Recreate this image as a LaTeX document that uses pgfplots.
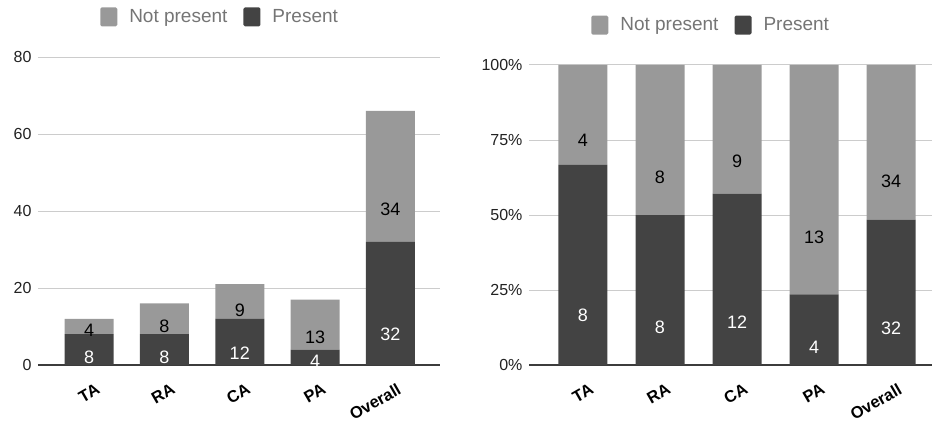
\documentclass[border=0pt]{standalone}
\usepackage{fontspec}
\setmainfont{Liberation Sans}
\usepackage{pgfplots}
\usepackage{pgfplotstable}
\pgfplotsset{compat=1.18}
\definecolor{dark}{HTML}{434343}
\definecolor{light}{HTML}{999999}
\definecolor{gridc}{HTML}{CCCCCC}
\definecolor{legtext}{HTML}{757575}
\definecolor{ticktext}{HTML}{222222}

\pgfplotstableread{
x cat present notpresent ppct npct
0 TA 8 4 66.67 33.33
1 RA 8 8 50.00 50.00
2 CA 12 9 57.14 42.86
3 PA 4 13 23.53 76.47
4 Overall 32 34 48.48 51.52
}\data

\pgfplotsset{
  mystyle/.style={
    scale only axis,
    ybar stacked,
    bar width=49pt,
    xmin=-0.68, xmax=4.66,
    xtick={0,1,2,3,4},
    xticklabels={TA,RA,CA,PA,Overall},
    axis x line*=bottom,
    axis y line*=left,
    x axis line style={draw=dark!90!black, line width=1.3pt},
    y axis line style={draw=none},
    major tick length=0pt,
    ymajorgrids,
    grid style={gridc, line width=1pt},
    /pgf/number format/assume math mode=true,
    yticklabel style={font=\fontsize{16}{18}\selectfont, text=ticktext, xshift=-3pt},
    xticklabel style={font=\bfseries\fontsize{16.5}{18}\selectfont, text=black, xshift=12pt, yshift=-21pt, rotate=30, anchor=east},
    reverse legend,
    legend columns=2,
    legend style={draw=none, fill=none, font=\fontsize{19}{21}\selectfont, text=legtext,
      /tikz/every even column/.append style={column sep=14pt}},
    legend image code/.code={\path[#1, draw=none, rounded corners=1.5pt] (0pt,-9.5pt) rectangle (17pt,9.5pt); \path (27pt,0pt);},
    nodes near coords,
    point meta=explicit symbolic,
    nodes near coords style={font=\fontsize{18}{20}\selectfont},
  }
}

\begin{document}
\begin{tikzpicture}
\useasboundingbox (0pt,0pt) rectangle (932pt,-425pt);

\begin{axis}[mystyle,
  at={(38pt,-365pt)}, anchor=south west,
  width=402pt, height=308pt,
  ymin=0, ymax=80, ytick={0,20,40,60,80},
  legend style={at={(0.453,1.13)}, anchor=center},
]
\addplot+[fill=dark, draw=none,
  visualization depends on={\thisrow{present} \as \rawy},
  every node near coord/.append style={text=white, anchor=center, yshift=-\rawy*0.9625pt}]
  table[x=x, y=present, meta=present] {\data};
\addlegendentry{Present}
\addplot+[fill=light, draw=none,
  visualization depends on={\thisrow{notpresent} \as \rawy},
  every node near coord/.append style={text=black, anchor=center, yshift=-\rawy*0.9625pt}]
  table[x=x, y=notpresent, meta=notpresent] {\data};
\addlegendentry{Not present}
\end{axis}

\begin{axis}[mystyle,
  at={(529pt,-365pt)}, anchor=south west,
  width=403pt, height=300pt,
  xmin=-0.7, xmax=4.53,
  ymin=0, ymax=100, ytick={0,25,50,75,100},
  yticklabel={\pgfmathprintnumber{\tick}\%},
  legend style={at={(0.452,1.133)}, anchor=center},
]
\addplot+[fill=dark, draw=none,
  visualization depends on={\thisrow{ppct} \as \rawy},
  every node near coord/.append style={text=white, anchor=center, yshift=-\rawy*0.75pt}]
  table[x=x, y=ppct, meta=present] {\data};
\addlegendentry{Present}
\addplot+[fill=light, draw=none,
  visualization depends on={\thisrow{npct} \as \rawy},
  every node near coord/.append style={text=black, anchor=center, yshift=-\rawy*0.75pt}]
  table[x=x, y=npct, meta=notpresent] {\data};
\addlegendentry{Not present}
\end{axis}
\end{tikzpicture}
\end{document}
